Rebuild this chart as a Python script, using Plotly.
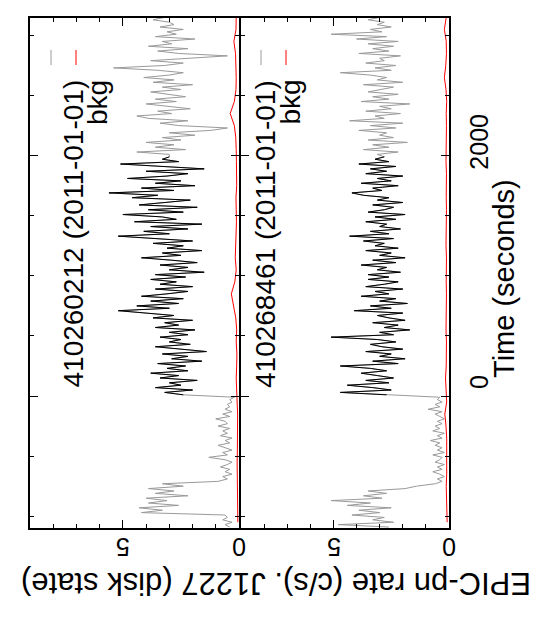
import plotly.graph_objects as go

# light curves, 20 s bins starting at t = -1090 s (count rate, c/s)
obs_a = "410260212 (2011-01-01)"
obs_b = "410268461 (2011-01-01)"
t_start = -1090
t_bin = 20

rate_a = [
    0.4, 0.6, 0.3, 0.7, 0.5, 0.6,
    4.2, 3.3, 4.3, 2.6, 3.9, 3.1, 4.0, 2.2, 3.6, 2.8, 3.9, 2.4, 3.3,
    0.9, 0.5, 0.7, 0.3, 0.6, 0.4, 0.8, 0.5, 0.3, 0.6, 1.3, 0.5, 0.7, 0.3, 0.6, 0.9, 0.4, 0.6,
    0.3, 0.8, 0.5, 0.7, 0.4, 0.9, 0.5, 0.6, 1.0, 0.4, 0.7, 0.3, 0.6, 0.4, 0.5, 0.3, 0.4, 0.2,
    2.4, 3.2, 2.0, 3.6, 2.5, 3.0, 1.8, 3.4, 2.6, 3.8, 2.2, 3.1,
    2.3, 3.5, 1.6, 2.9, 2.2, 3.3, 1.4, 2.7, 3.6, 2.1, 3.0, 2.5,
    3.4, 2.2, 3.0, 1.9, 3.6, 2.6, 3.2, 2.0, 3.7, 2.8, 4.0, 5.2,
    3.0, 4.4, 2.6, 3.8, 2.4, 4.2, 3.1, 2.2, 3.6, 2.0, 3.4, 2.7, 3.8,
    2.3, 3.6, 1.5, 3.0, 2.2, 3.4, 1.8, 2.9, 4.2, 2.5, 3.3, 1.6, 3.1, 2.4, 3.7, 2.0, 3.5,
    5.2, 3.0, 4.1, 2.2, 3.8, 1.6, 4.5, 2.7, 3.3, 5.0, 2.4, 3.9, 1.8, 4.3, 3.0, 2.1, 4.6, 3.5,
    5.6, 2.8, 4.2, 1.9, 3.6, 2.5, 4.8, 3.1, 2.2, 4.0, 1.5, 3.4, 5.1, 2.6, 3.3, 3.0,
    3.0, 4.4, 2.3, 3.6, 2.8, 4.0, 2.5, 3.3, 1.9, 3.0, 1.2, 0.5,
    2.6, 3.4, 2.2, 3.9, 4.4, 2.9, 3.5, 2.1, 3.2, 4.0, 2.7, 3.6, 2.3, 3.1, 3.8, 2.5, 3.3, 2.0,
    3.7, 2.8, 4.1, 3.0, 2.4, 3.5, 5.4,
    3.2, 2.4, 3.8, 2.0, 0.5, 2.6, 3.5, 2.2, 3.9, 2.9, 3.3, 1.9, 3.6, 2.7, 3.1, 2.4, 3.4, 2.8,
    3.0, 3.7, 3.2,
]

rate_b = [
    2.6, 4.8, 2.4, 3.3, 2.8, 4.2, 3.0, 3.9, 2.5, 4.4, 3.4, 5.1, 2.9, 3.7, 2.7, 3.5,
    1.9, 1.4,
    0.6, 0.3, 0.5, 0.2, 0.4, 0.7, 0.3, 0.5, 0.2, 0.6, 0.4, 0.3, 0.7, 0.2, 0.5, 0.3, 0.6, 0.4, 0.8,
    0.3, 0.5, 0.2, 0.7, 0.4, 0.6, 0.3, 0.5, 0.2, 0.4, 0.6, 0.3, 0.9, 0.4, 0.6, 0.3, 0.5, 0.4,
    2.7, 4.7, 2.5, 3.3, 4.4, 2.6, 3.6, 2.4, 3.1, 3.8, 2.7, 3.4,
    4.7, 2.2, 3.3, 1.9, 3.0, 2.5, 3.6, 2.0, 2.9, 3.4, 2.3, 3.1,
    5.1, 2.4, 3.0, 1.7, 2.8, 2.2, 3.3, 1.9, 2.6, 3.1, 2.0, 4.1,
    2.5, 3.4, 1.8, 3.0, 2.3, 3.8, 2.6, 3.2, 2.0, 3.6, 2.8, 2.2, 3.5,
    2.6, 3.5, 2.1, 3.1, 2.7, 3.8, 2.3, 3.3, 1.9, 3.0, 2.5, 3.6, 2.2, 3.2, 2.8, 3.7, 2.4,
    4.3, 2.6, 3.4, 2.1, 3.0, 2.7, 3.6, 2.3, 3.2, 1.9, 3.5, 2.8, 2.4, 3.3, 2.0, 3.1, 2.6, 3.7,
    4.2, 2.9, 3.3, 2.2, 3.8, 2.5, 3.1, 2.0, 3.6, 2.7, 3.4, 2.3, 3.9, 2.6, 3.2, 2.8,
    3.1, 2.2, 3.7, 2.6, 3.3, 1.8, 3.5, 2.4, 3.0, 2.7, 3.9, 2.3,
    3.4, 2.0, 4.3, 2.8, 3.2, 2.1, 3.6, 2.5, 3.0, 1.7, 3.8, 2.6, 3.3, 2.2, 3.5, 2.9, 2.4, 3.7,
    2.0, 3.1, 2.7, 3.4, 4.7, 2.5, 3.2,
    2.3, 3.6, 2.8, 3.0, 2.1, 3.9, 2.6, 3.3, 2.4, 3.5, 2.2, 4.0, 2.7, 5.1, 2.9, 3.4, 2.5, 3.1,
    2.8, 3.5, 3.0,
]

# background, 100 s bins starting at t = -1050 s
bkg_start = -1050
bkg_bin = 100
bkg_a = [0.05, 0.06, 0.05, 0.07, 0.06, 0.08, 0.07, 0.06, 0.07, 0.06, 0.08,
         0.10, 0.12, 0.10, 0.09, 0.12, 0.10, 0.14, 0.25, 0.33, 0.18, 0.12,
         0.16, 0.14, 0.13, 0.11, 0.12, 0.13, 0.10, 0.12, 0.11, 0.12, 0.14,
         0.20, 0.38, 0.20, 0.13, 0.12, 0.14, 0.15, 0.22, 0.13, 0.12]
bkg_b = [0.08, 0.10, 0.09, 0.12, 0.10, 0.09, 0.11, 0.10, 0.13, 0.18, 0.10,
         0.12, 0.15, 0.12, 0.10, 0.11, 0.13, 0.12, 0.10, 0.11, 0.12, 0.10,
         0.11, 0.13, 0.12, 0.10, 0.11, 0.12, 0.10, 0.11, 0.13, 0.12, 0.10,
         0.11, 0.12, 0.10, 0.13, 0.20, 0.14, 0.11, 0.12, 0.20, 0.12]

# disk-state interval drawn in black
disk_t0, disk_t1 = 0, 2000

rate_ticks = [0, 5]
time_ticks = [0, 2000]

W, H = 547, 620
px = lambda v: v / W
py = lambda v: 1 - v / H

def times(vals, start, step):
    return [start + step * i for i in range(len(vals))]

def disk(t, r):
    keep = [i for i in range(len(t)) if disk_t0 <= t[i] <= disk_t1]
    return [t[i] for i in keep], [r[i] for i in keep]

fig = go.Figure()
panels = [(rate_a, bkg_a, "x", "y"), (rate_b, bkg_b, "x2", "y2")]
for rate, bkg, xa, ya in panels:
    t = times(rate, t_start, t_bin)
    td, rd = disk(t, rate)
    tb = times(bkg, bkg_start, bkg_bin)
    fig.add_trace(go.Scatter(x=rate, y=t, mode="lines", xaxis=xa, yaxis=ya,
                             line=dict(color="#9a9a9a", width=1)))
    fig.add_trace(go.Scatter(x=rd, y=td, mode="lines", xaxis=xa, yaxis=ya,
                             line=dict(color="black", width=1)))
    fig.add_trace(go.Scatter(x=bkg, y=tb, mode="lines", xaxis=xa, yaxis=ya,
                             line=dict(color="#ff0000", width=1)))

xstyle = dict(range=[9, 0], showline=True, linecolor="black", linewidth=2,
              mirror="allticks", ticks="inside", tick0=0, dtick=5, ticklen=8,
              tickcolor="black", showticklabels=False, showgrid=False, zeroline=False,
              minor=dict(ticks="inside", tick0=0, dtick=1, ticklen=4, tickcolor="black"))
ystyle = dict(range=[-1098, 3145], domain=[py(520), py(10)], showline=True,
              linecolor="black", linewidth=2, mirror="allticks", ticks="inside",
              tick0=0, dtick=2000, ticklen=8, tickcolor="black", showticklabels=False,
              showgrid=False, zeroline=False,
              minor=dict(ticks="inside", tick0=0, dtick=500, ticklen=4, tickcolor="black"))

fig.update_layout(
    width=W, height=H, margin=dict(l=0, r=0, t=0, b=0),
    paper_bgcolor="white", plot_bgcolor="white", showlegend=False,
    font=dict(family="Liberation Sans, Arial, sans-serif", color="black"),
    xaxis=dict(domain=[px(22), px(231)], anchor="y", **xstyle),
    xaxis2=dict(domain=[px(233), px(441)], anchor="y2", **xstyle),
    yaxis=dict(anchor="x", **ystyle),
    yaxis2=dict(anchor="x2", matches="y", **ystyle),
)

ann = []
for xa in ["x", "x2"]:
    for v in rate_ticks:
        ann.append(dict(x=v, y=py(555), xref=xa, yref="paper", text=str(v),
                        textangle=180, showarrow=False, font=dict(size=25)))
for v in time_ticks:
    ann.append(dict(x=px(487), y=v, xref="paper", yref="y", yshift=14, text=str(v),
                    textangle=-90, showarrow=False, font=dict(size=25)))
ann.append(dict(x=px(514), y=py(271), xref="paper", yref="paper", text="Time (seconds)",
                textangle=-90, showarrow=False, font=dict(size=29)))
ann.append(dict(x=px(268), y=py(595), xref="paper", yref="paper",
                text="EPIC-pn rate (c/s). J1227 (disk state)",
                textangle=180, showarrow=False, font=dict(size=31)))

# keys
shapes = []
for x0, name in [(0, obs_a), (210, obs_b)]:
    ann.append(dict(x=px(x0 + 47), y=py(70), xref="paper", yref="paper", text=name,
                    textangle=-90, yanchor="top", showarrow=False, font=dict(size=28)))
    ann.append(dict(x=px(x0 + 72), y=py(70), xref="paper", yref="paper", text="bkg",
                    textangle=-90, yanchor="top", showarrow=False, font=dict(size=28)))
    shapes.append(dict(type="line", xref="paper", yref="paper", x0=px(x0 + 43), x1=px(x0 + 43),
                       y0=py(42), y1=py(57), line=dict(color="#9a9a9a", width=1)))
    shapes.append(dict(type="line", xref="paper", yref="paper", x0=px(x0 + 68), x1=px(x0 + 68),
                       y0=py(42), y1=py(57), line=dict(color="#ff0000", width=1)))

fig.update_layout(annotations=ann, shapes=shapes)
fig.write_html("out.html")
